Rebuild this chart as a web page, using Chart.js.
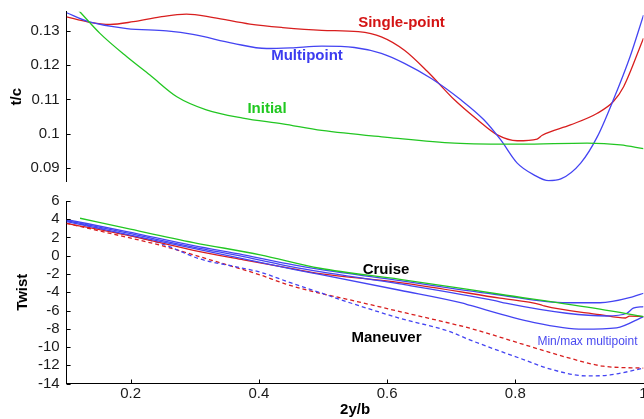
<!DOCTYPE html>
<html>
<head>
<meta charset="utf-8">
<script src="https://cdn.jsdelivr.net/npm/chart.js@4.4.1/dist/chart.umd.min.js"></script>
<style>
  html, body { margin: 0; padding: 0; background: #fff; }
  #figure { position: relative; width: 644px; height: 419px; overflow: hidden; }
  .panel { position: absolute; left: 0; width: 660px; }
  #tcPanel { top: 0; height: 192px; }
  #twistPanel { top: 180px; height: 239px; }
</style>
</head>
<body>
<div id="figure">
  <div class="panel" id="tcPanel"><canvas id="tcChart"></canvas></div>
  <div class="panel" id="twistPanel"><canvas id="twistChart"></canvas></div>
</div>
<script>
// --- Thickness-to-chord along the span, [2y/b, t/c] ---
const tcSinglePoint = [
  [0.100, 0.1340], [0.134, 0.1325], [0.168, 0.1318], [0.204, 0.1326],
  [0.246, 0.1340], [0.287, 0.1348], [0.329, 0.1338], [0.386, 0.1319],
  [0.437, 0.1309], [0.498, 0.1301], [0.555, 0.1297], [0.591, 0.1282],
  [0.627, 0.1243], [0.663, 0.1181], [0.705, 0.1099], [0.741, 0.1041],
  [0.772, 0.0997], [0.803, 0.0980], [0.834, 0.0985], [0.842, 0.0996],
  [0.886, 0.1026], [0.928, 0.1060], [0.953, 0.1094], [0.969, 0.1137],
  [1.000, 0.1278],
];
const tcMultipoint = [
  [0.100, 0.1352], [0.134, 0.1326], [0.194, 0.1306], [0.256, 0.1299],
  [0.297, 0.1289], [0.360, 0.1263], [0.412, 0.1248], [0.450, 0.1250],
  [0.498, 0.1255], [0.549, 0.1251], [0.591, 0.1234], [0.627, 0.1205],
  [0.669, 0.1161], [0.715, 0.1099], [0.751, 0.1041], [0.777, 0.0983],
  [0.803, 0.0915], [0.829, 0.0881], [0.852, 0.0864], [0.871, 0.0869],
  [0.902, 0.0915], [0.928, 0.0992], [0.953, 0.1099], [0.979, 0.1224],
  [1.000, 0.1345],
];
const tcInitial = [
  [0.110, 0.1376], [0.121, 0.1354], [0.152, 0.1292], [0.194, 0.1224],
  [0.230, 0.1171], [0.272, 0.1108], [0.318, 0.1070], [0.375, 0.1046],
  [0.437, 0.1029], [0.498, 0.1010], [0.600, 0.0990], [0.705, 0.0973],
  [0.808, 0.0970], [0.912, 0.0973], [0.964, 0.0968], [1.000, 0.0957],
];

// --- Twist distributions, [2y/b, twist in deg] ---
const twistInitial = [
  [0.121, 4.11], [0.194, 3.00], [0.298, 1.45], [0.402, 0.10], [0.495, -1.37],
  [0.620, -2.58], [0.776, -4.22], [0.932, -5.86], [1.000, -6.67],
];
const twistSingleCruise = [
  [0.100, 3.56], [0.194, 2.25], [0.298, 0.60], [0.376, -0.45], [0.454, -1.45],
  [0.495, -1.95], [0.620, -2.95], [0.776, -4.65], [0.839, -5.35], [0.845, -5.50],
  [0.932, -6.45], [0.972, -6.82], [0.978, -6.62], [1.000, -6.67],
];
const twistMultiMax = [
  [0.100, 3.97], [0.194, 2.65], [0.298, 1.10], [0.376, 0.10], [0.454, -1.00],
  [0.495, -1.50], [0.620, -2.73], [0.776, -4.30], [0.880, -5.15], [0.932, -5.15],
  [0.984, -4.48], [1.000, -4.11],
];
const twistMultiCruise = [
  [0.100, 3.86], [0.194, 2.50], [0.298, 0.95], [0.376, -0.10], [0.454, -1.25],
  [0.495, -1.75], [0.620, -3.09], [0.770, -4.95], [0.785, -5.20], [0.880, -6.30],
  [0.943, -6.60], [0.974, -6.30], [0.984, -5.75], [1.000, -5.58],
];
const twistMultiMin = [
  [0.100, 3.75], [0.194, 2.35], [0.298, 0.80], [0.376, -0.35], [0.454, -1.50],
  [0.495, -2.05], [0.620, -3.78], [0.718, -5.20], [0.730, -5.45], [0.828, -7.30],
  [0.906, -8.05], [0.958, -7.90], [1.000, -6.67],
];
const twistSingleManeuver = [
  [0.100, 3.56], [0.168, 2.45], [0.246, 1.15], [0.324, -0.45], [0.402, -2.10],
  [0.444, -3.15], [0.498, -4.15], [0.542, -4.84], [0.620, -6.12], [0.698, -7.40],
  [0.729, -7.94], [0.807, -9.59], [0.885, -11.23], [0.937, -12.10], [1.000, -12.32],
];
const twistMultiManeuver = [
  [0.100, 3.86], [0.168, 2.71], [0.246, 1.37], [0.308, -0.35], [0.360, -1.15],
  [0.402, -1.80], [0.449, -2.95], [0.498, -4.10], [0.542, -5.15], [0.620, -6.85],
  [0.698, -8.32], [0.729, -9.22], [0.807, -11.23], [0.859, -12.51], [0.911, -13.17],
  [0.948, -13.06], [1.000, -12.32],
];

// --- Axis ticks ---
const spanTicks = [0.2, 0.4, 0.6, 0.8, 1];
const tcTicks = [0.09, 0.1, 0.11, 0.12, 0.13];
const twistTicks = [6, 4, 2, 0, -2, -4, -6, -8, -10, -12, -14];

const RED = "#d81e1e";
const BLUE = "#4444f2";
const GREEN = "#22c622";
const FONT = "'Liberation Sans', Arial, Helvetica, sans-serif";

Chart.defaults.font.family = FONT;
Chart.defaults.font.size = 15;
Chart.defaults.color = "#1a1a1a";
Chart.defaults.animation = false;

function series(points, color, dashed) {
  return {
    data: points.map(([x, y]) => ({ x, y })),
    borderColor: color,
    borderWidth: 1.3,
    borderDash: dashed ? [4, 3] : [],
    pointRadius: 0,
    fill: false,
    cubicInterpolationMode: "monotone",
  };
}

// ticks point into the plot, as in the original figure
const innerTicks = {
  id: "innerTicks",
  afterDraw(chart) {
    const { ctx, chartArea } = chart;
    ctx.save();
    ctx.strokeStyle = "#000";
    ctx.lineWidth = 1;
    Object.values(chart.scales).forEach((scale) => {
      if (!scale.options.display) return;
      scale.ticks.forEach((t) => {
        const p = Math.round(scale.getPixelForValue(t.value)) + 0.5;
        ctx.beginPath();
        if (scale.axis === "x") {
          ctx.moveTo(p, chartArea.bottom);
          ctx.lineTo(p, chartArea.bottom - 4);
        } else {
          ctx.moveTo(chartArea.left, p);
          ctx.lineTo(chartArea.left + 4, p);
        }
        ctx.stroke();
      });
    });
    ctx.restore();
  },
};

// text placed next to the curves, in data coordinates
function curveLabels(items) {
  return {
    id: "curveLabels",
    afterDatasetsDraw(chart) {
      const { ctx, scales } = chart;
      ctx.save();
      ctx.textAlign = "center";
      ctx.textBaseline = "middle";
      items.forEach((it) => {
        ctx.font = it.font;
        ctx.fillStyle = it.color;
        ctx.fillText(it.text, scales.x.getPixelForValue(it.x), scales.y.getPixelForValue(it.y));
      });
      ctx.restore();
    },
  };
}

function yAxis(min, max, ticks, title, titlePad, fmt) {
  return {
    type: "linear",
    min,
    max,
    grid: { display: false, drawTicks: false },
    border: { display: true, color: "#000", width: 1 },
    ticks: { padding: 7, autoSkip: false, callback: fmt },
    afterBuildTicks: (s) => { s.ticks = ticks.map((v) => ({ value: v })); },
    afterFit: (s) => {
      s.width = 66.6;
      s.paddingTop = 0;
      s.paddingBottom = 0;
    },
    title: {
      display: true,
      text: title,
      font: { weight: "bold", size: 15 },
      color: "#000",
      padding: { top: titlePad, bottom: 0 },
    },
  };
}

// --- t/c panel ---
new Chart(document.getElementById("tcChart"), {
  type: "line",
  data: {
    datasets: [
      series(tcInitial, GREEN),
      series(tcMultipoint, BLUE),
      series(tcSinglePoint, RED),
    ],
  },
  options: {
    responsive: true,
    maintainAspectRatio: false,
    layout: { padding: { top: 11.7, bottom: 10.3, left: 0, right: 16.5 } },
    plugins: { legend: { display: false }, tooltip: { enabled: false } },
    scales: {
      x: { type: "linear", min: 0.1, max: 1.0, display: false },
      y: yAxis(0.0861, 0.1355, tcTicks, "t/c", 7.7, (v) => String(+v.toFixed(2))),
    },
  },
  plugins: [
    innerTicks,
    curveLabels([
      { text: "Single-point", x: 0.6225, y: 0.1322, color: "#d41414", font: `bold 15px ${FONT}` },
      { text: "Multipoint", x: 0.475, y: 0.1228, color: "#3c3cf0", font: `bold 15px ${FONT}` },
      { text: "Initial", x: 0.4126, y: 0.1073, color: "#20c820", font: `bold 15px ${FONT}` },
    ]),
  ],
});

// --- Twist panel ---
new Chart(document.getElementById("twistChart"), {
  type: "line",
  data: {
    datasets: [
      series(twistInitial, GREEN),
      series(twistMultiMax, BLUE),
      series(twistMultiMin, BLUE),
      series(twistMultiCruise, BLUE),
      series(twistSingleCruise, RED),
      series(twistMultiManeuver, BLUE, true),
      series(twistSingleManeuver, RED, true),
    ],
  },
  options: {
    responsive: true,
    maintainAspectRatio: false,
    layout: { padding: { top: 21, bottom: 0, left: 0, right: 16.5 } },
    plugins: { legend: { display: false }, tooltip: { enabled: false } },
    scales: {
      x: {
        type: "linear",
        min: 0.1,
        max: 1.0,
        grid: { display: false, drawTicks: false },
        border: { display: true, color: "#000", width: 1 },
        ticks: { padding: 1, maxRotation: 0, autoSkip: false, callback: (v) => String(+v.toFixed(1)) },
        afterBuildTicks: (s) => { s.ticks = spanTicks.map((v) => ({ value: v })); },
        afterFit: (s) => {
          s.height = 35.5;
          s.paddingLeft = 0;
          s.paddingRight = 0;
        },
        title: {
          display: true,
          text: "2y/b",
          font: { weight: "bold", size: 15 },
          color: "#000",
          padding: { top: 0, bottom: 0 },
        },
      },
      y: yAxis(-14, 6, twistTicks, "Twist", 13.5, (v) => String(v)),
    },
  },
  plugins: [
    innerTicks,
    curveLabels([
      { text: "Cruise", x: 0.5983, y: -1.5, color: "#000", font: `bold 15px ${FONT}` },
      { text: "Maneuver", x: 0.599, y: -9.0, color: "#000", font: `bold 15px ${FONT}` },
      { text: "Min/max multipoint", x: 0.9126, y: -9.39, color: "#4a4af0", font: `12px ${FONT}` },
    ]),
  ],
});
</script>
</body>
</html>
